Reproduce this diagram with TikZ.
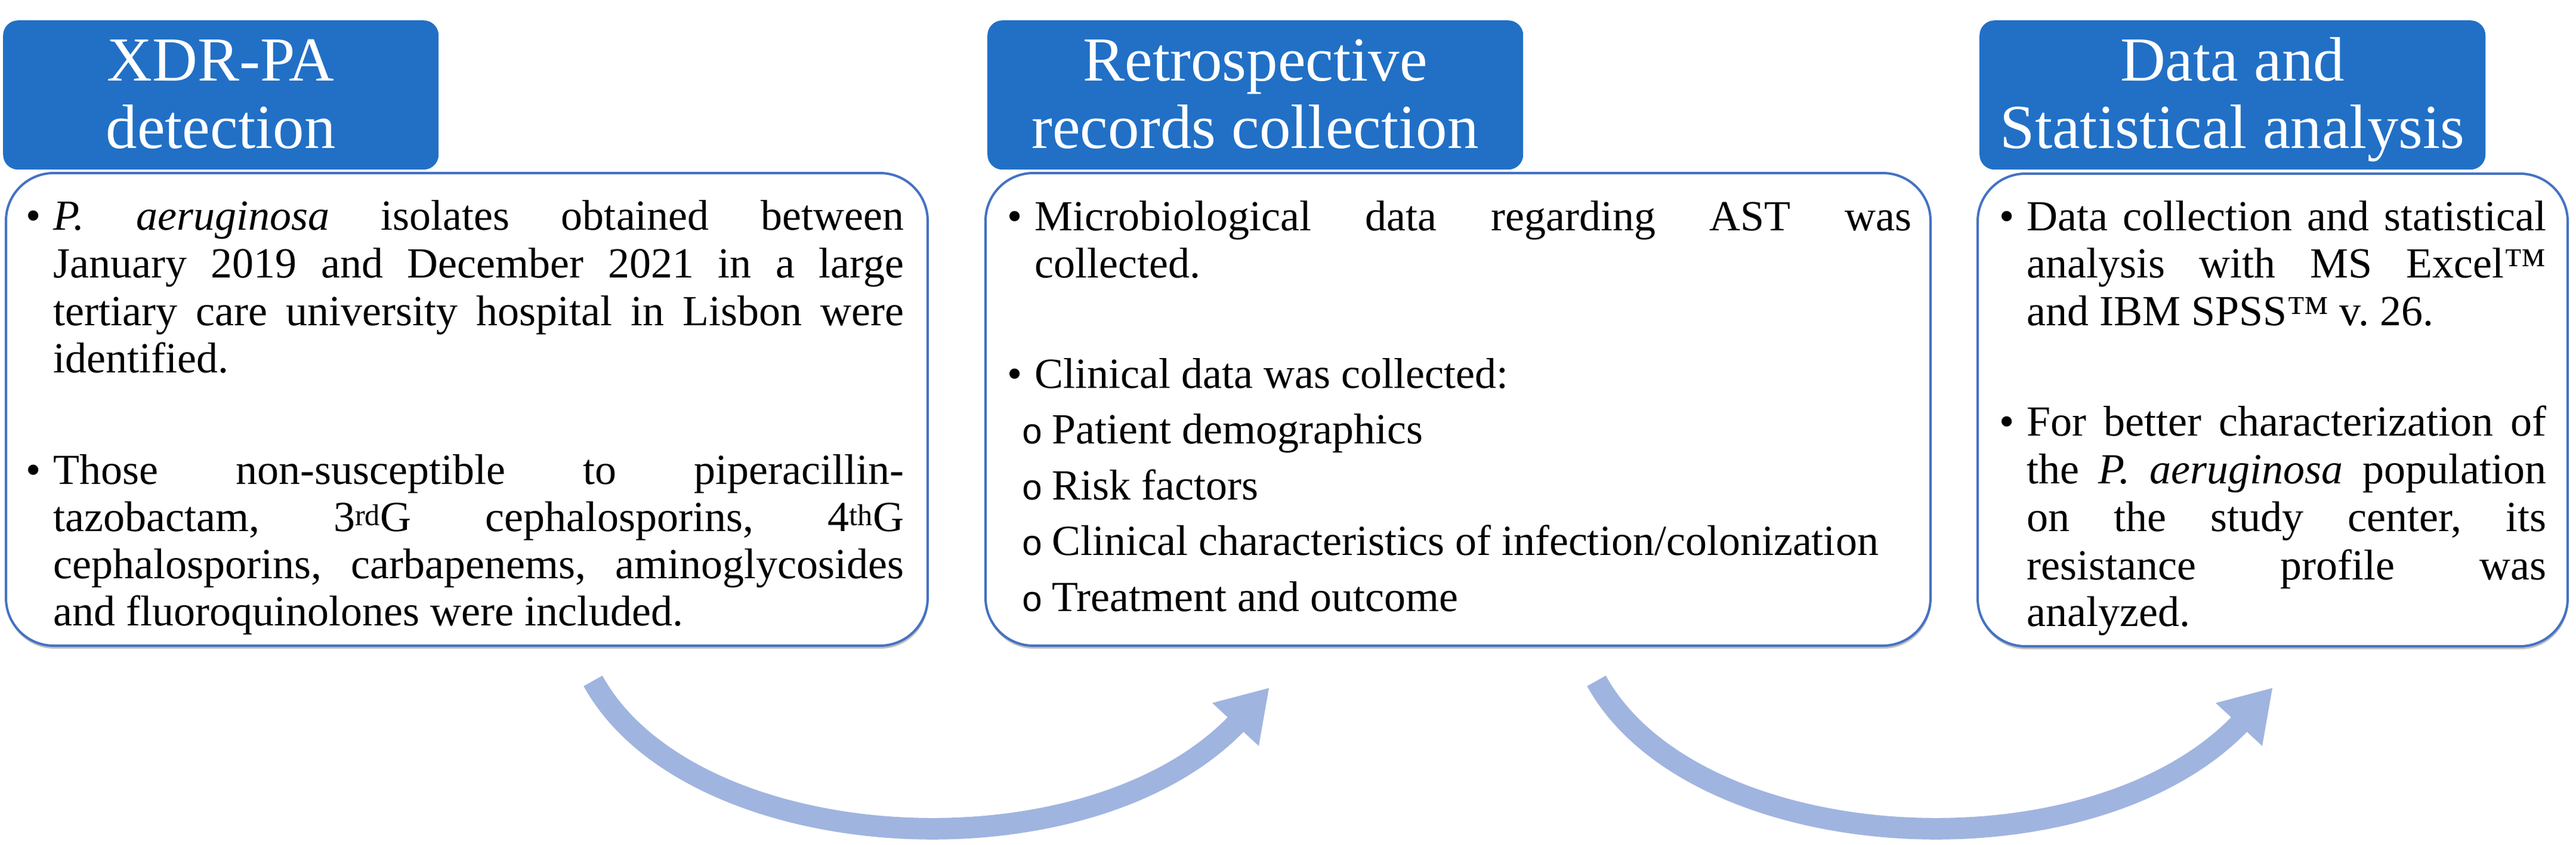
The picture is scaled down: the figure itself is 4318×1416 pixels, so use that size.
\documentclass[tikz,border=0pt]{standalone}
\usepackage{fontspec}
\setmainfont{Liberation Serif}
\newfontfamily\subbulletfont{Liberation Mono}
\usetikzlibrary{shadows}
\definecolor{hdrblue}{RGB}{33,112,198}
\definecolor{edgeblue}{RGB}{68,114,196}
\definecolor{arrowblue}{RGB}{160,180,224}
\newcommand\bodyfnt{\fontsize{72}{80}\selectfont\frenchspacing}
\newcommand\headfnt{\fontsize{105}{115}\selectfont}
\newcommand\jl[2]{\makebox[#1pt][s]{#2}}
\begin{document}
\begin{tikzpicture}[x=1pt,y=-1pt,
  bodybox/.style={draw=edgeblue, line width=4pt, fill=white, rounded corners=80pt,
    anchor=north west, inner sep=0pt,
    drop shadow={shadow xshift=1pt, shadow yshift=-5pt, opacity=0.25, fill=black}},
  headbox/.style={fill=hdrblue, rounded corners=25pt, anchor=north west, inner sep=0pt},
  headtext/.style={anchor=base, inner sep=0pt, text=white, font=\headfnt},
  ln/.style={anchor=base west, inner sep=0pt, font=\bodyfnt},
  subbul/.style={anchor=base west, inner sep=0pt, font=\fontsize{60}{70}\subbulletfont},
  arrowshaft/.style={draw=arrowblue, line width=36pt, line cap=butt},
  arrowhead/.style={fill=arrowblue}]
\useasboundingbox (0,0) rectangle (4318,1416);

% body boxes
\node[bodybox, minimum width=1545pt, minimum height=792pt] (body1) at (8,288) {};
\node[bodybox, minimum width=1584pt, minimum height=792pt] (body2) at (1650,288) {};
\node[bodybox, minimum width=989pt, minimum height=792pt] (body3) at (3313,289) {};

% header boxes
\node[headbox, minimum width=730pt, minimum height=250pt] (head1) at (5,34) {};
\node[headbox, minimum width=898pt, minimum height=250pt] (head2) at (1655,34) {};
\node[headbox, minimum width=848pt, minimum height=250pt] (head3) at (3318,34) {};

\node[headtext] (h1a) at (370,135) {XDR-PA};
\node[headtext] (h1b) at (370,248) {detection};
\node[headtext] (h2a) at (2104,135) {Retrospective};
\node[headtext] (h2b) at (2104,248) {records collection};
\node[headtext] (h3a) at (3742,135) {Data and};
\node[headtext] (h3b) at (3742,248) {Statistical analysis};

% box 1 text
\node[ln] (b1p1) at (43,385) {•};
\node[ln] (t1a) at (89,385) {\jl{1426}{\textit{P. aeruginosa} isolates obtained between}};
\node[ln] (t1b) at (89,465) {\jl{1426}{January 2019 and December 2021 in a large}};
\node[ln] (t1c) at (89,545) {\jl{1426}{tertiary care university hospital in Lisbon were}};
\node[ln] (t1d) at (89,624) {identified.};
\node[ln] (b1p2) at (43,811) {•};
\node[ln] (t1e) at (89,811) {\jl{1426}{Those non-susceptible to piperacillin-}};
\node[ln] (t1f) at (89,890) {\jl{1426}{tazobactam, 3\textsuperscript{rd}G cephalosporins, 4\textsuperscript{th}G}};
\node[ln] (t1g) at (89,969) {\jl{1426}{cephalosporins, carbapenems, aminoglycosides}};
\node[ln] (t1h) at (89,1048) {and fluoroquinolones were included.};

% box 2 text
\node[ln] (b2p1) at (1688,386) {•};
\node[ln] (t2a) at (1734,386) {\jl{1470}{Microbiological data regarding AST was}};
\node[ln] (t2b) at (1734,465) {collected.};
\node[ln] (b2p2) at (1688,650) {•};
\node[ln] (t2c) at (1734,650) {Clinical data was collected:};
\node[subbul] (s1) at (1712,743.5) {o};
\node[ln] (t2d) at (1763,743.5) {Patient demographics};
\node[subbul] (s2) at (1712,837) {o};
\node[ln] (t2e) at (1763,837) {Risk factors};
\node[subbul] (s3) at (1712,930.5) {o};
\node[ln] (t2f) at (1763,930.5) {Clinical characteristics of infection/colonization};
\node[subbul] (s4) at (1712,1024) {o};
\node[ln] (t2g) at (1763,1024) {Treatment and outcome};

% box 3 text
\node[ln] (b3p1) at (3351,386) {•};
\node[ln] (t3a) at (3397,386) {\jl{871}{Data collection and statistical}};
\node[ln] (t3b) at (3397,465) {\jl{871}{analysis with MS Excel™}};
\node[ln] (t3c) at (3397,545) {and IBM SPSS™ v. 26.};
\node[ln] (b3p2) at (3351,730) {•};
\node[ln] (t3d) at (3397,730) {\jl{871}{For better characterization of}};
\node[ln] (t3e) at (3397,810) {\jl{871}{the \textit{P. aeruginosa} population}};
\node[ln] (t3f) at (3397,890) {\jl{871}{on the study center, its}};
\node[ln] (t3g) at (3397,971) {\jl{871}{resistance profile was}};
\node[ln] (t3h) at (3397,1049) {analyzed.};

% curved arrows
\coordinate (a1s) at (994,1141);
\coordinate (a1c1) at (1159,1439);
\coordinate (a1c2) at (1826,1477);
\coordinate (a1e) at (2078,1207);
\coordinate (a1t) at (2127,1153);
\coordinate (a1l) at (2032,1178);
\coordinate (a1r) at (2110,1250);
\draw[arrowshaft] (a1s) .. controls (a1c1) and (a1c2) .. (a1e);
\fill[arrowhead] (a1t) -- (a1l) -- (a1r) -- cycle;

\coordinate (a2s) at (2676,1141);
\coordinate (a2c1) at (2841,1439);
\coordinate (a2c2) at (3508,1477);
\coordinate (a2e) at (3760,1207);
\coordinate (a2t) at (3809,1153);
\coordinate (a2l) at (3714,1178);
\coordinate (a2r) at (3792,1250);
\draw[arrowshaft] (a2s) .. controls (a2c1) and (a2c2) .. (a2e);
\fill[arrowhead] (a2t) -- (a2l) -- (a2r) -- cycle;
\end{tikzpicture}
\end{document}
